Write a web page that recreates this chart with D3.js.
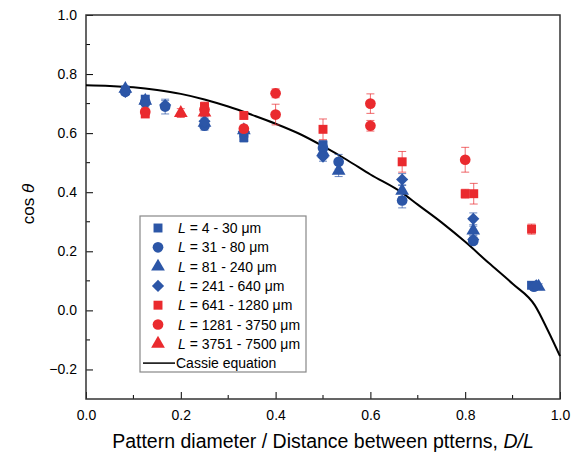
<!DOCTYPE html>
<html>
<head>
<meta charset="utf-8">
<script src="https://cdn.jsdelivr.net/npm/d3@7"></script>
<style>
  body { margin: 0; background: #fff; }
  svg { font-family: Arial, 'Liberation Sans', sans-serif; }
</style>
</head>
<body>
<div id="chart"></div>
<script>
// data: [D/L, cos theta, error]
const blueSquare = [[0.083, 0.745, 0.01], [0.125, 0.715, 0.012], [0.333, 0.6, 0.02], [0.333, 0.585, 0.015], [0.5, 0.56, 0.015], [0.94, 0.085, 0.01]]
const blueCircle = [[0.083, 0.74, 0.01], [0.125, 0.705, 0.012], [0.167, 0.69, 0.025], [0.25, 0.625, 0.015], [0.5, 0.55, 0.015], [0.533, 0.503, 0.025], [0.667, 0.372, 0.025], [0.817, 0.235, 0.012], [0.945, 0.08, 0.012]]
const blueTriangle = [[0.083, 0.75, 0.01], [0.125, 0.71, 0.012], [0.25, 0.635, 0.015], [0.333, 0.61, 0.015], [0.5, 0.535, 0.015], [0.533, 0.473, 0.02], [0.667, 0.405, 0.02], [0.817, 0.27, 0.015], [0.955, 0.08, 0.01]]
const blueDiamond = [[0.083, 0.74, 0.01], [0.125, 0.7, 0.012], [0.167, 0.695, 0.015], [0.25, 0.64, 0.015], [0.333, 0.605, 0.015], [0.5, 0.52, 0.015], [0.667, 0.443, 0.02], [0.817, 0.31, 0.02], [0.817, 0.24, 0.012], [0.95, 0.085, 0.01]]
const redSquare = [[0.125, 0.665, 0.01], [0.25, 0.69, 0.015], [0.333, 0.66, 0.012], [0.5, 0.613, 0.035], [0.667, 0.503, 0.035], [0.8, 0.395, 0.015], [0.818, 0.395, 0.035], [0.94, 0.275, 0.017]]
const redCircle = [[0.125, 0.672, 0.01], [0.25, 0.68, 0.015], [0.333, 0.615, 0.012], [0.4, 0.735, 0.015], [0.4, 0.663, 0.035], [0.6, 0.7, 0.033], [0.6, 0.625, 0.018], [0.8, 0.51, 0.042]]
const redTriangle = [[0.2, 0.668, 0.015], [0.25, 0.67, 0.012]]

// Cassie curve
const cassieX = [0, 0.05, 0.1, 0.15, 0.2, 0.25, 0.3, 0.35, 0.4, 0.45, 0.5, 0.55, 0.6, 0.667, 0.7, 0.75, 0.8, 0.85, 0.9, 0.947, 0.975, 1.0]
const cassieY = [0.762, 0.76, 0.755, 0.746, 0.733, 0.714, 0.69, 0.662, 0.632, 0.598, 0.556, 0.51, 0.46, 0.398, 0.358, 0.298, 0.232, 0.16, 0.09, 0.017, -0.07, -0.155]

const legendLabels = ['4 - 30', '31 - 80', '81 - 240', '241 - 640', '641 - 1280', '1281 - 3750', '3751 - 7500']
const xTicks = [0, 0.2, 0.4, 0.6, 0.8, 1.0]
const yTicks = [-0.2, 0, 0.2, 0.4, 0.6, 0.8, 1.0]

const blue = '#2c56a7'
const red = '#ea2a2e'

const series = [
  { data: blueSquare, color: blue, shape: 'square' },
  { data: blueCircle, color: blue, shape: 'circle' },
  { data: blueTriangle, color: blue, shape: 'triangle' },
  { data: blueDiamond, color: blue, shape: 'diamond' },
  { data: redSquare, color: red, shape: 'square' },
  { data: redCircle, color: red, shape: 'circle' },
  { data: redTriangle, color: red, shape: 'triangle' }
]

const margin = { top: 15, left: 86, right: 11, bottom: 56 }
const width = 571 - margin.left - margin.right
const height = 455 - margin.top - margin.bottom

const svg = d3
  .select('#chart')
  .append('svg')
  .attr('width', 571)
  .attr('height', 455)
  .append('g')
  .attr('transform', 'translate(' + margin.left + ',' + margin.top + ')')

const xScale = d3.scaleLinear().domain([0, 1]).range([0, width])
const yScale = d3.scaleLinear().domain([-0.3, 1.0]).range([height, 0])

const symbolFor = {
  square: d3.symbol().type(d3.symbolSquare).size(80),
  circle: d3.symbol().type(d3.symbolCircle).size(90),
  triangle: d3.symbol().type(d3.symbolTriangle).size(82),
  diamond: d3.symbol().type(d3.symbolSquare).size(74)
}

/// axes ////
const fmt = d3.format('.1f')
const xAxis = svg.append('g').attr('transform', 'translate(0,' + height + ')')
xAxis.call(d3.axisBottom(xScale).tickValues(xTicks).tickFormat(fmt).tickSizeInner(-7).tickSizeOuter(0).tickPadding(11))
xAxis.call(g => g.select('.domain').remove())
xAxis.append('g').selectAll('line')
  .data([0.1, 0.3, 0.5, 0.7, 0.9])
  .enter().append('line')
  .attr('x1', d => xScale(d)).attr('x2', d => xScale(d))
  .attr('y1', 0).attr('y2', -4)
  .attr('stroke', '#000')

const yAxis = svg.append('g')
yAxis.call(d3.axisLeft(yScale).tickValues(yTicks).tickFormat(fmt).tickSizeInner(-7).tickSizeOuter(0).tickPadding(9))
yAxis.call(g => g.select('.domain').remove())
yAxis.append('g').selectAll('line')
  .data([-0.1, 0.1, 0.3, 0.5, 0.7, 0.9])
  .enter().append('line')
  .attr('y1', d => yScale(d)).attr('y2', d => yScale(d))
  .attr('x1', 0).attr('x2', 4)
  .attr('stroke', '#000')

svg.selectAll('.tick text').attr('font-size', 14).attr('fill', '#000')
svg.selectAll('.tick line').attr('stroke', '#000')

// frame
svg.append('rect')
  .attr('width', width)
  .attr('height', height)
  .attr('fill', 'none')
  .attr('stroke', '#333')
  .attr('stroke-width', 1.5)

/// Cassie curve ////
const cassie = cassieX.map((x, i) => ({ x: x, y: cassieY[i] }))
const line = d3.line()
  .x(d => xScale(d.x))
  .y(d => yScale(d.y))
  .curve(d3.curveMonotoneX)

svg.append('path')
  .datum(cassie)
  .attr('d', line)
  .attr('fill', 'none')
  .attr('stroke', '#000')
  .attr('stroke-width', 2)

/// points with error bars ////
series.forEach(s => {
  const g = svg.append('g')
  const bars = g.selectAll('.err').data(s.data).enter().append('g')
    .attr('stroke', s.color)
    .attr('stroke-opacity', 0.7)
    .attr('stroke-width', 1)
  bars.append('line')
    .attr('x1', d => xScale(d[0])).attr('x2', d => xScale(d[0]))
    .attr('y1', d => yScale(d[1] - d[2])).attr('y2', d => yScale(d[1] + d[2]))
  bars.append('line')
    .attr('x1', d => xScale(d[0]) - 4).attr('x2', d => xScale(d[0]) + 4)
    .attr('y1', d => yScale(d[1] + d[2])).attr('y2', d => yScale(d[1] + d[2]))
  bars.append('line')
    .attr('x1', d => xScale(d[0]) - 4).attr('x2', d => xScale(d[0]) + 4)
    .attr('y1', d => yScale(d[1] - d[2])).attr('y2', d => yScale(d[1] - d[2]))

  g.selectAll('.pt').data(s.data).enter().append('path')
    .attr('d', symbolFor[s.shape])
    .attr('fill', s.color)
    .attr('transform', d => 'translate(' + xScale(d[0]) + ',' + yScale(d[1]) + ')' + (s.shape === 'diamond' ? ' rotate(45)' : ''))
})

/// legend ////
const legend = svg.append('g').attr('transform', 'translate(' + (140 - margin.left) + ',' + (216 - margin.top) + ')')
legend.append('rect')
  .attr('width', 166)
  .attr('height', 156)
  .attr('fill', '#fff')
  .attr('stroke', '#888')
  .attr('stroke-width', 1.2)

const rowH = 19.3
series.forEach((s, i) => {
  const cy = 12 + i * rowH
  legend.append('path')
    .attr('d', symbolFor[s.shape])
    .attr('fill', s.color)
    .attr('transform', 'translate(18,' + cy + ')' + (s.shape === 'diamond' ? ' rotate(45)' : ''))
  const t = legend.append('text')
    .attr('x', 38)
    .attr('y', cy + 5)
    .attr('font-size', 14)
  t.append('tspan').attr('font-style', 'italic').text('L')
  t.append('tspan').text(' = ' + legendLabels[i] + ' μm')
})
const cy = 12 + 7 * rowH
legend.append('line')
  .attr('x1', 3).attr('x2', 35)
  .attr('y1', cy).attr('y2', cy)
  .attr('stroke', '#000')
  .attr('stroke-width', 1.5)
legend.append('text')
  .attr('x', 36)
  .attr('y', cy + 5)
  .attr('font-size', 14)
  .text('Cassie equation')

/// axis titles ////
const xt = svg.append('text')
  .attr('x', width / 2)
  .attr('y', height + 49)
  .attr('text-anchor', 'middle')
  .attr('font-size', 19.5)
xt.append('tspan').text('Pattern diameter / Distance between ptterns, ')
xt.append('tspan').attr('font-style', 'italic').text('D/L')

const yt = svg.append('text')
  .attr('transform', 'translate(' + (-52) + ',' + (height / 2 - 3) + ') rotate(-90)')
  .attr('text-anchor', 'middle')
  .attr('font-size', 17)
yt.append('tspan').text('cos ')
yt.append('tspan').attr('font-style', 'italic').text('θ')
</script>
</body>
</html>
